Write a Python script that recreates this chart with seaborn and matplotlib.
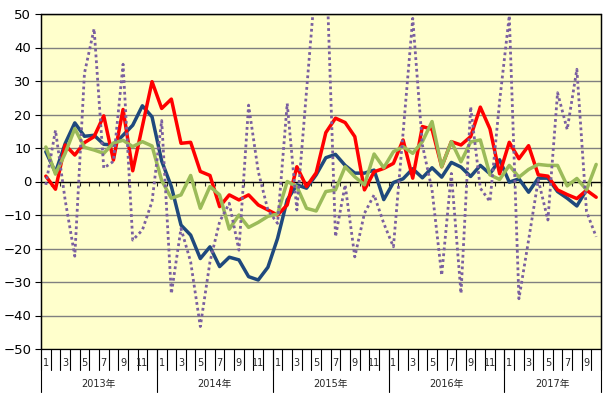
import pandas as pd
import matplotlib.pyplot as plt
import matplotlib.transforms as mtransforms
from matplotlib.patches import Rectangle
import seaborn as sns

# 2013年1月 ～ 2017年10月 の月次データ
years = ['2013年', '2014年', '2015年', '2016年', '2017年']
months_per_year = [12, 12, 12, 12, 10]
month_labels = [str(m) if m % 2 == 1 else '' for n in months_per_year for m in range(1, n + 1)]

red = [1.6, -2.3, 10.9, 7.9, 11.6, 13.4, 19.6, 6.4, 21.5, 3.2, 16.5, 29.8,
       21.8, 24.6, 11.4, 11.7, 3.0, 1.8, -7.5, -4.0, -5.5, -4.0, -7.0, -8.5,
       -10.0, -7.0, 4.4, -1.5, 2.6, 14.6, 18.9, 17.6, 13.4, -2.5, 2.9, 3.9,
       5.4, 12.4, 1.0, 16.4, 15.6, 4.4, 11.9, 10.9, 13.4, 22.2, 15.7, 2.3,
       11.7, 6.8, 10.7, 2.0, 1.6, -2.5, -3.9, -5.1, -2.6, -4.7]
blue = [8.9, 2.7, 11.3, 17.5, 13.5, 13.8, 11.1, 10.9, 13.8, 16.8, 22.6, 19.3,
        6.1, -1.5, -13.0, -16.0, -23.0, -19.5, -25.4, -22.6, -23.4, -28.4, -29.4, -25.6,
        -17.0, -5.5, -1.0, -2.0, 2.0, 7.1, 8.1, 4.8, 2.5, 2.5, 3.4, -5.4,
        -0.3, 0.8, 3.8, 1.1, 4.1, 1.3, 5.7, 4.3, 1.5, 4.8, 2.3, 6.5,
        -0.2, 0.8, -3.2, 1.0, 1.0, -3.0, -5.0, -7.3, -2.5, None]
green = [10.3, 2.2, 8.4, 15.8, 10.2, 9.4, 8.4, 11.5, 12.3, 10.4, 11.9, 10.6,
         0.3, -5.0, -4.0, 1.8, -8.0, -1.5, -4.0, -14.2, -10.0, -13.7, -12.2, -10.4,
         -9.7, 0.0, -1.5, -8.0, -8.8, -3.0, -2.5, 4.4, 1.4, -1.0, 8.2, 4.1,
         8.9, 10.4, 8.4, 11.9, 17.9, 4.4, 11.9, 5.9, 11.8, 12.4, 2.0, 0.6,
         4.8, 1.3, 3.6, 5.1, 4.8, 4.8, -1.3, 0.9, -2.5, 5.1]
purple = [-1.0, 15.3, -5.5, -22.3, 32.3, 45.6, 4.0, 6.0, 35.0, -17.5, -14.5, -6.0,
          18.2, -33.5, -14.0, -24.0, -43.3, -24.0, -12.0, -6.5, -20.5, 22.8, 3.0, -8.5,
          -12.5, 23.3, -8.5, 27.0, 62.0, 70.0, -16.5, -1.0, -22.5, -9.5, -4.0, -12.5,
          -19.5, 14.5, 48.7, 10.9, -2.5, -28.0, 2.4, -33.4, 22.3, -2.0, -6.0, 24.0,
          49.5, -35.0, -17.5, 0.5, -11.5, 26.5, 15.5, 33.5, -9.0, -16.5]

df = pd.DataFrame({'idx': range(len(red)), 'red': red, 'blue': blue,
                   'green': green, 'purple': purple})

sns.set_style('white')
plt.rcParams['font.family'] = ['DejaVu Sans', 'Noto Sans CJK JP']

fig = plt.figure(figsize=(6.09, 3.96), dpi=100)
ax = fig.add_axes([41 / 609, 1 - 349 / 396, 560 / 609, 335 / 396])
ax.set_facecolor('#FFFFCC')

# 系列 (下から順に描画)
styles = [('blue', '#1F497D', '-', 2.5),
          ('red', '#FF0000', '-', 2.5),
          ('green', '#9BBB59', '-', 2.5),
          ('purple', '#7A5FA0', (0, (1, 1.1)), 2.0)]
for i, (col, color, ls, lw) in enumerate(styles):
    sns.lineplot(data=df, x='idx', y=col, color=color, linestyle=ls, lw=lw,
                 ax=ax, zorder=3 + i)

n = len(red)
ax.set_xlim(-0.5, n - 0.5)
ax.set_ylim(-50, 50)
ax.set_yticks(range(-50, 51, 10))
ax.yaxis.grid(True, color='#808080', lw=1)
ax.set_axisbelow(True)
ax.tick_params(axis='y', direction='out', length=4, width=0.8, labelsize=9.5,
               pad=3, left=True, colors='black')

# x軸は0の位置
bounds = [k - 0.5 for k in range(n + 1)]
ax.spines['bottom'].set_position(('data', 0))
ax.set_xticks(bounds)
ax.tick_params(axis='x', direction='out', length=3, width=0.8, bottom=True,
               labelbottom=False)
for s in ax.spines.values():
    s.set_color('black')
    s.set_linewidth(0.9)
ax.add_patch(Rectangle((0, 0), 1, 1, transform=ax.transAxes, fill=False,
                       ec='black', lw=0.9, clip_on=False, zorder=10))
ax.set_xlabel('')
ax.set_ylabel('')

# 下部の月・年ラベル
trans = mtransforms.blended_transform_factory(ax.transData, ax.transAxes)
year_starts = [sum(months_per_year[:j]) for j in range(len(years) + 1)]
for b in bounds:
    ax.plot([b, b], [0, -0.063], transform=trans, color='black', lw=0.8, clip_on=False)
for s in year_starts:
    ax.plot([s - 0.5, s - 0.5], [0, -0.128], transform=trans, color='black',
            lw=0.8, clip_on=False)
for i, lab in enumerate(month_labels):
    if lab:
        ax.text(i, -0.042, lab, transform=trans, ha='center', va='center', fontsize=7)
for j, y in enumerate(years):
    mid = (year_starts[j] + year_starts[j + 1] - 1) / 2
    ax.text(mid, -0.105, y, transform=trans, ha='center', va='center', fontsize=7)

plt.savefig('out.png', dpi=100)
